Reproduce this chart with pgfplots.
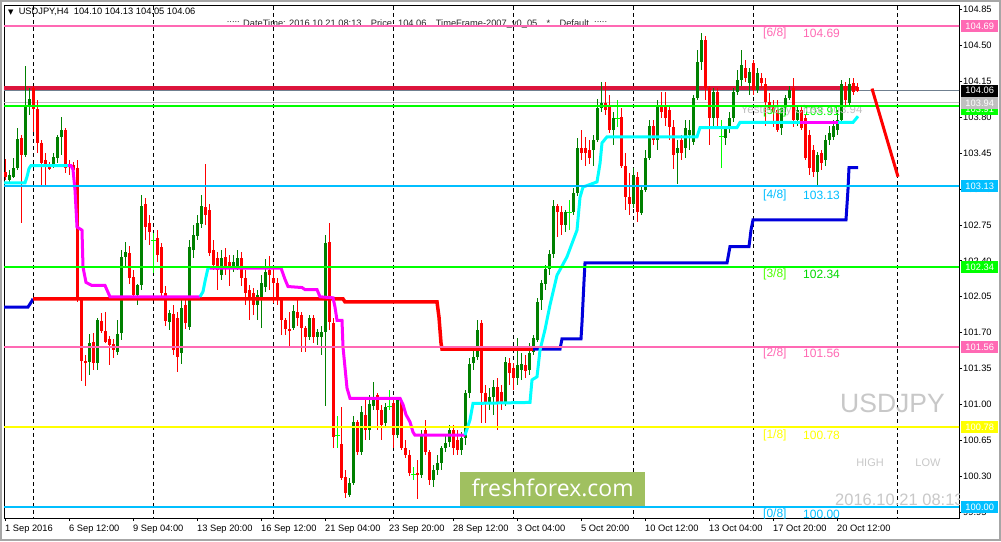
\documentclass[border=0pt]{standalone}
\usepackage{pgfplots}
\pgfplotsset{compat=1.18}
\usepackage{pgfplotstable}
\usepackage{fontspec}
\setmainfont{Liberation Sans}
\newfontfamily\dejavu{DejaVu Sans}
\newfontfamily\ffont{Open Sans}

\definecolor{cup}{RGB}{0,128,0}
\definecolor{cdn}{RGB}{255,0,0}
\definecolor{cdoji}{RGB}{0,255,0}
\definecolor{hotpink}{RGB}{255,105,180}
\definecolor{crimsonc}{RGB}{220,20,60}
\definecolor{dsb}{RGB}{0,191,255}
\definecolor{limec}{RGB}{0,255,0}
\definecolor{yellowc}{RGB}{255,255,0}
\definecolor{aquac}{RGB}{0,255,255}
\definecolor{magc}{RGB}{255,0,255}
\definecolor{bluec}{RGB}{0,0,220}
\definecolor{slate}{RGB}{112,128,144}
\definecolor{silverc}{RGB}{192,192,192}
\definecolor{wm}{RGB}{200,200,200}
\definecolor{ffg}{RGB}{160,192,96}

\newcommand{\tickfont}{\fontsize{9.3}{11}\selectfont}
\newcommand{\lvlfont}{\fontsize{12}{14}\selectfont}

% USDJPY H4 candles: bar index, open, high, low, close
\pgfplotstableread{
i o h l c
0 103.27 103.39 103.19 103.22
1 103.19 103.29 103.17 103.24
2 103.22 103.40 103.21 103.31
3 103.31 103.70 103.29 103.59
4 103.60 103.63 102.77 103.43
5 103.43 104.30 103.41 103.92
6 103.92 104.09 103.82 103.98
7 104.09 104.11 103.66 103.88
8 103.88 103.97 103.45 103.55
9 103.55 103.58 103.13 103.35
10 103.38 103.45 103.12 103.34
11 103.34 103.36 103.29 103.30
12 103.34 103.45 103.31 103.41
13 103.40 103.63 103.35 103.61
14 103.61 103.80 103.43 103.68
15 103.68 103.70 103.26 103.31
16 103.35 103.38 103.24 103.32
17 103.34 103.36 103.16 103.29
18 103.31 103.38 102.00 102.02
19 102.02 102.04 101.23 101.42
20 101.42 101.48 101.18 101.40
21 101.41 101.69 101.29 101.60
22 101.61 101.70 101.34 101.40
23 101.40 101.84 101.34 101.82
24 101.81 101.89 101.70 101.72
25 101.72 101.90 101.60 101.61
26 101.64 101.67 101.39 101.58
27 101.59 101.64 101.45 101.53
28 101.51 101.82 101.48 101.69
29 101.70 102.51 101.63 102.44
30 102.44 102.58 102.34 102.49
31 102.48 102.55 102.18 102.23
32 102.24 102.31 102.02 102.07
33 102.07 102.18 101.97 102.16
34 102.16 103.04 102.12 102.94
35 102.95 103.01 102.60 102.73
36 102.77 102.85 102.55 102.68
37 102.60 102.67 102.28 102.60
38 102.62 102.70 102.39 102.46
39 102.54 102.57 102.06 102.09
40 102.09 102.16 101.77 101.81
41 101.80 101.92 101.73 101.89
42 101.88 101.97 101.48 101.53
43 101.84 101.90 101.32 101.46
44 101.50 102.02 101.40 101.94
45 101.97 102.02 101.74 101.79
46 101.76 102.60 101.73 102.54
47 102.51 102.75 102.43 102.65
48 102.64 102.85 102.60 102.77
49 102.76 103.04 102.72 102.94
50 102.93 103.35 102.75 102.85
51 102.90 102.96 102.45 102.48
52 102.51 102.60 102.31 102.36
53 102.43 102.49 102.12 102.31
54 102.26 102.51 102.21 102.43
55 102.44 102.53 102.26 102.34
56 102.39 102.46 102.16 102.33
57 102.33 102.46 102.29 102.39
58 102.35 102.51 102.31 102.43
59 102.43 102.49 102.16 102.23
60 102.23 102.31 101.97 102.09
61 102.12 102.16 101.82 102.02
62 102.09 102.14 101.87 101.97
63 101.97 102.12 101.82 102.07
64 102.02 102.26 101.75 102.18
65 102.15 102.42 102.10 102.29
66 102.31 102.45 102.12 102.26
67 102.23 102.33 101.99 102.18
68 102.18 102.23 101.97 102.02
69 102.02 102.04 101.68 101.82
70 101.82 101.84 101.68 101.74
71 101.74 101.90 101.57 101.72
72 101.75 101.97 101.73 101.91
73 101.90 102.04 101.77 101.84
74 101.87 101.90 101.51 101.75
75 101.75 101.77 101.51 101.66
76 101.66 101.87 101.63 101.84
77 101.84 101.87 101.60 101.66
78 101.66 101.74 101.58 101.71
79 101.66 101.77 101.48 101.71
80 101.71 102.65 100.99 102.58
81 102.58 102.77 101.73 101.80
82 101.80 101.84 100.58 100.68
83 100.70 100.89 100.58 100.70
84 100.62 100.98 100.26 100.28
85 100.29 100.36 100.09 100.14
86 100.12 100.28 100.10 100.24
87 100.24 100.89 100.21 100.83
88 100.83 100.85 100.51 100.54
89 100.54 100.99 100.51 100.93
90 100.90 101.04 100.65 100.75
91 100.75 101.09 100.65 101.01
92 100.99 101.22 100.95 101.06
93 101.09 101.11 100.75 100.95
94 100.95 100.99 100.65 100.80
95 100.82 101.01 100.77 100.98
96 100.98 101.14 100.95 100.98
97 101.02 101.06 100.58 100.70
98 100.70 101.06 100.67 101.04
99 101.02 101.04 100.56 100.58
100 100.58 100.65 100.48 100.51
101 100.51 100.56 100.30 100.33
102 100.32 100.39 100.26 100.32
103 100.33 100.46 100.08 100.31
104 100.31 100.75 100.28 100.70
105 100.75 100.85 100.51 100.54
106 100.54 100.56 100.21 100.26
107 100.26 100.41 100.20 100.36
108 100.36 100.51 100.31 100.43
109 100.43 100.60 100.36 100.58
110 100.58 100.70 100.54 100.63
111 100.63 100.80 100.59 100.75
112 100.75 100.80 100.51 100.58
113 100.65 100.75 100.51 100.56
114 100.56 100.73 100.51 100.67
115 100.67 101.14 100.60 101.11
116 101.11 101.45 101.06 101.40
117 101.40 101.53 101.34 101.46
118 101.46 101.82 101.43 101.73
119 101.80 101.82 100.82 101.11
120 101.11 101.19 100.82 101.02
121 101.02 101.16 100.95 101.07
122 101.07 101.24 100.90 101.17
123 101.17 101.26 100.75 101.02
124 101.12 101.19 100.95 101.02
125 101.02 101.46 100.99 101.41
126 101.40 101.45 101.19 101.31
127 101.36 101.41 101.14 101.26
128 101.26 101.65 101.19 101.38
129 101.34 101.50 101.24 101.40
130 101.38 101.48 101.26 101.33
131 101.34 101.60 101.29 101.50
132 101.51 101.68 101.48 101.65
133 101.63 102.04 101.61 102.00
134 102.02 102.21 101.92 102.18
135 102.18 102.36 102.12 102.32
136 102.32 102.51 102.26 102.47
137 102.47 102.99 102.43 102.94
138 102.94 102.96 102.63 102.88
139 102.88 102.94 102.65 102.75
140 102.75 102.90 102.68 102.88
141 102.87 102.99 102.70 102.87
142 102.88 103.11 102.85 103.06
143 103.06 103.60 103.03 103.50
144 103.50 103.68 103.38 103.45
145 103.50 103.61 103.33 103.45
146 103.48 103.58 103.35 103.40
147 103.48 103.63 103.33 103.58
148 103.58 103.98 103.56 103.89
149 103.89 104.14 103.85 103.94
150 103.94 104.14 103.82 103.87
151 103.92 104.02 103.65 103.68
152 103.68 103.85 103.53 103.79
153 103.79 103.97 103.71 103.79
154 103.80 103.89 103.31 103.33
155 103.33 103.45 102.90 103.02
156 103.02 103.26 102.85 102.96
157 102.96 103.31 102.92 103.24
158 103.22 103.27 102.78 102.88
159 102.87 103.14 102.85 103.09
160 103.09 103.48 103.07 103.40
161 103.40 103.77 103.38 103.72
162 103.72 103.77 103.53 103.58
163 103.58 103.97 103.48 103.90
164 103.92 104.05 103.79 103.85
165 103.90 104.05 103.72 103.79
166 103.87 103.92 103.58 103.71
167 103.71 103.77 103.30 103.43
168 103.45 103.58 103.15 103.50
169 103.58 103.63 103.38 103.45
170 103.50 103.77 103.40 103.70
171 103.63 103.77 103.48 103.68
172 103.56 104.02 103.53 103.99
173 103.99 104.46 103.97 104.34
174 104.34 104.62 104.26 104.55
175 104.55 104.59 103.97 104.09
176 104.09 104.11 103.53 103.79
177 103.79 104.09 103.72 104.05
178 104.05 104.09 103.72 103.79
179 103.61 103.77 103.31 103.61
180 103.60 103.72 103.53 103.70
181 103.70 103.85 103.65 103.79
182 103.79 104.09 103.75 104.05
183 104.05 104.26 104.02 104.16
184 104.16 104.46 104.11 104.31
185 104.28 104.36 104.14 104.18
186 104.14 104.28 104.02 104.24
187 104.33 104.36 104.02 104.07
188 104.07 104.28 104.04 104.23
189 104.18 104.23 104.09 104.13
190 104.13 104.18 103.72 103.95
191 103.95 104.04 103.87 103.89
192 103.90 103.97 103.71 103.85
193 103.87 103.97 103.66 103.68
194 103.70 103.92 103.63 103.89
195 103.89 104.02 103.82 103.99
196 103.99 104.11 103.97 104.07
197 104.09 104.18 103.71 103.77
198 103.77 103.92 103.72 103.87
199 103.87 103.92 103.68 103.70
200 103.79 103.82 103.38 103.40
201 103.63 103.68 103.24 103.31
202 103.48 103.53 103.22 103.27
203 103.27 103.46 103.14 103.43
204 103.45 103.48 103.29 103.36
205 103.38 103.63 103.33 103.58
206 103.58 103.72 103.53 103.65
207 103.61 103.77 103.58 103.72
208 103.68 103.87 103.63 103.77
209 103.77 104.16 103.75 104.13
210 104.11 104.14 103.92 103.97
211 103.94 104.18 103.91 104.13
212 104.13 104.18 104.02 104.05
213 104.10 104.13 104.05 104.06
}\candles

\pgfplotsset{
  wick/.style={draw=none, mark=none, forget plot,
    error bars/.cd, y dir=both, y explicit, error mark=none,
    error bar style={line width=1pt, #1}},
  body/.style={draw=none, mark=none, forget plot,
    error bars/.cd, y dir=both, y explicit, error mark=none,
    error bar style={line width=3pt, #1}},
}

\begin{document}
\begin{tikzpicture}[x=1pt,y=1pt]
\fill[white] (-4,-23) rectangle (997,518);
\draw[black!35, line width=2pt] (-3,-22) rectangle (996,517);
\begin{axis}[
  at={(0,0)}, anchor=south west,
  scale only axis, width=955pt, height=513pt,
  xmin=-0.25, xmax=238.5, ymin=99.893, ymax=104.895,
  axis line style={black, line width=0.9pt},
  ytick pos=right, yticklabel pos=right, xtick pos=left,
  tick align=outside, major tick length=3pt,
  tick style={black, line width=0.8pt},
  xtick={0,16,...,208},
  xticklabels={1 Sep 2016, 6 Sep 12:00, 9 Sep 04:00, 13 Sep 20:00, 16 Sep 12:00,
    21 Sep 04:00, 23 Sep 20:00, 28 Sep 12:00, 3 Oct 04:00, 5 Oct 20:00,
    10 Oct 12:00, 13 Oct 04:00, 17 Oct 20:00, 20 Oct 12:00},
  ytick={99.95,100.30,100.65,101.00,101.35,101.70,102.05,102.40,102.75,103.10,103.45,103.80,104.15,104.50,104.85},
  yticklabels={99.95,100.30,100.65,101.00,101.35,101.70,102.05,102.40,102.75,103.10,103.45,103.80,104.15,104.50,104.85},
  xticklabel style={anchor=north west, inner xsep=0pt, font=\tickfont},
  yticklabel style={anchor=west, inner xsep=1pt, font=\tickfont},
]
% weekly separators
\pgfplotsinvokeforeach{7,37,67,97,127,157,187,223}{
  \draw[black, line width=0.8pt, dash pattern=on 4pt off 3pt] (axis cs:#1,99.8) -- (axis cs:#1,105);
}
% background lines
\addplot[crimsonc, line width=4pt, forget plot] coordinates {(-1,104.09) (213.25,104.09)};
\addplot[slate, line width=1pt, forget plot] coordinates {(-1,104.06) (240,104.06)};
\addplot[silverc, line width=1pt, forget plot] coordinates {(-1,103.94) (240,103.94)};

% candles
\addplot[wick=cup] table[x=i, y expr={\thisrow{c}>\thisrow{o} ? (\thisrow{h}+\thisrow{l})/2 : nan}, y error expr={(\thisrow{h}-\thisrow{l})/2}] {\candles};
\addplot[wick=cdn] table[x=i, y expr={\thisrow{c}<\thisrow{o} ? (\thisrow{h}+\thisrow{l})/2 : nan}, y error expr={(\thisrow{h}-\thisrow{l})/2}] {\candles};
\addplot[wick=cdoji] table[x=i, y expr={\thisrow{c}==\thisrow{o} ? (\thisrow{h}+\thisrow{l})/2 : nan}, y error expr={(\thisrow{h}-\thisrow{l})/2}] {\candles};
\addplot[body=cup] table[x=i, y expr={\thisrow{c}>\thisrow{o} ? (\thisrow{o}+\thisrow{c})/2 : nan}, y error expr={abs(\thisrow{c}-\thisrow{o})/2}] {\candles};
\addplot[body=cdn] table[x=i, y expr={\thisrow{c}<\thisrow{o} ? (\thisrow{o}+\thisrow{c})/2 : nan}, y error expr={abs(\thisrow{c}-\thisrow{o})/2}] {\candles};
\addplot[only marks, mark=-, mark size=2.5pt, cdoji, mark options={line width=1pt}, forget plot] table[x=i, y expr={\thisrow{c}==\thisrow{o} ? \thisrow{c} : nan}] {\candles};

% watermark box
\fill[ffg] (axis cs:113.75,100.34) rectangle (axis cs:160,100.00);
\node[text=white, font=\ffont\fontsize{23}{26}\selectfont, inner sep=0pt] at (axis cs:136.9,100.185) {freshforex.com};

% trend step indicator
\addplot[bluec, line width=3pt] coordinates {(-1,101.95) (5.75,101.95) (6.25,101.98) (6.75,102.01) (7,102.03)};
\addplot[cdn, line width=3.5pt] coordinates {(7,102.03) (84.5,102.03) (85,102.00) (108,102.00) (108.5,101.85) (109,101.60) (109.25,101.54) (132,101.54)};
\addplot[bluec, line width=3pt] coordinates {(132,101.54) (138.75,101.54) (139.25,101.64) (144,101.64) (144.25,101.80) (144.75,102.20) (145,102.38) (180.5,102.38) (181.25,102.54) (186,102.54) (186.5,102.70) (187,102.80) (210.25,102.80) (210.75,103.10) (211,103.31) (213.25,103.31)};
\addplot[aquac, line width=3pt] coordinates {(-1,103.16) (5,103.16) (5.5,103.22) (6,103.30) (6.5,103.33) (15.75,103.33)};
\addplot[magc, line width=3pt] coordinates {(15.75,103.33) (16.5,103.33) (17,103.29) (17.5,103.09) (18,102.73) (19.25,102.70) (19.5,102.34) (20.25,102.19) (21.75,102.16) (25,102.16) (26.25,102.05) (48.75,102.05)};
\addplot[aquac, line width=3pt] coordinates {(48.75,102.05) (49.5,102.10) (50,102.20) (50.75,102.33) (51.25,102.33)};
\addplot[magc, line width=3pt] coordinates {(51.25,102.33) (69,102.33) (70,102.22) (70.75,102.15) (74.25,102.14) (75,102.12) (78,102.12) (78.75,102.05) (82,102.04) (82.5,101.95) (83,101.82) (84.25,101.82) (84.5,101.56) (85,101.36) (85.5,101.16) (86.25,101.06) (98.75,101.06) (99.5,101.00) (100.25,100.90) (101.25,100.83) (102,100.73) (102.5,100.70) (115,100.70)};
\addplot[aquac, line width=3pt] coordinates {(115,100.70) (116.25,100.85) (117,101.01) (131.25,101.02) (131.75,101.24) (133,101.27) (133.75,101.53) (135,101.73) (136.25,101.97) (138,102.26) (140.5,102.44) (143,102.70) (143.75,103.02) (144.5,103.12) (148,103.17) (148.75,103.35) (149.25,103.55) (150.5,103.61) (173,103.61) (173.75,103.70) (183,103.70) (183.75,103.75) (198.75,103.75)};
\addplot[magc, line width=3pt] coordinates {(198.75,103.75) (208.25,103.75)};
\addplot[aquac, line width=3pt] coordinates {(208.25,103.75) (212,103.75) (213.25,103.81)};

% texts
\node[anchor=west, inner sep=0pt, font=\tickfont] at (axis cs:0.75,104.83) {{\dejavu\fontsize{7}{8}\selectfont ▼}\ \ USDJPY,H4\ \ 104.10 104.13 104.05 104.06};
\node[inner sep=0pt, font=\tickfont, text=black!85] at (axis cs:103,104.71) {::::: DateTime: 2016.10.21 08:13\quad Price: 104.06\quad TimeFrame-2007\_v0\_05\quad *\quad Default\ \ :::::};
\node[anchor=west, inner sep=0pt, font=\lvlfont, text=hotpink] at (axis cs:189.5,104.62) {[6/8]};
\node[anchor=west, inner sep=0pt, font=\lvlfont, text=hotpink] at (axis cs:199.5,104.62) {104.69};
\node[anchor=west, inner sep=0pt, font=\lvlfont, text=limec] at (axis cs:189.5,103.86) {[5/8]};
\node[anchor=west, inner sep=0pt, font=\lvlfont, text=limec] at (axis cs:199.5,103.86) {103.91};
\node[anchor=west, inner sep=0pt, font=\fontsize{11.5}{13}\selectfont, text=silverc] at (axis cs:183.9,103.865) {Yesterday Close 103.94};
\node[anchor=west, inner sep=0pt, font=\lvlfont, text=dsb] at (axis cs:189.5,103.04) {[4/8]};
\node[anchor=west, inner sep=0pt, font=\lvlfont, text=dsb] at (axis cs:199.5,103.04) {103.13};
\node[anchor=west, inner sep=0pt, font=\lvlfont, text=limec!70!yellowc] at (axis cs:189.5,102.27) {[3/8]};
\node[anchor=west, inner sep=0pt, font=\lvlfont, text=limec!85!black] at (axis cs:199.5,102.27) {102.34};
\node[anchor=west, inner sep=0pt, font=\lvlfont, text=hotpink] at (axis cs:189.5,101.50) {[2/8]};
\node[anchor=west, inner sep=0pt, font=\lvlfont, text=hotpink] at (axis cs:199.5,101.50) {101.56};
\node[anchor=west, inner sep=0pt, font=\lvlfont, text=yellowc] at (axis cs:189.5,100.70) {[1/8]};
\node[anchor=west, inner sep=0pt, font=\lvlfont, text=yellowc] at (axis cs:199.5,100.70) {100.78};
\node[anchor=west, inner sep=0pt, font=\lvlfont, text=dsb] at (axis cs:189.5,99.93) {[0/8]};
\node[anchor=west, inner sep=0pt, font=\lvlfont, text=dsb] at (axis cs:199.5,99.93) {100.00};
\node[anchor=west, inner sep=0pt, font=\fontsize{26.5}{30}\selectfont, text=wm] at (axis cs:208.75,101.01) {USDJPY};
\node[inner sep=0pt, font=\fontsize{11}{13}\selectfont, text=wm] at (axis cs:216.25,100.43) {HIGH};
\node[inner sep=0pt, font=\fontsize{11}{13}\selectfont, text=wm] at (axis cs:230.75,100.43) {LOW};
\node[anchor=west, inner sep=0pt, font=\fontsize{16.5}{19}\selectfont, text=wm] at (axis cs:207.5,100.07) {2016.10.21 08:13};

% Murrey levels
\addplot[hotpink, line width=2pt] coordinates {(-1,104.69) (240,104.69)};
\addplot[limec, line width=2pt] coordinates {(-1,103.91) (240,103.91)};
\addplot[dsb, line width=2pt] coordinates {(-1,103.13) (240,103.13)};
\addplot[limec, line width=2pt] coordinates {(-1,102.34) (240,102.34)};
\addplot[hotpink, line width=2pt] coordinates {(-1,101.56) (240,101.56)};
\addplot[yellowc, line width=2pt] coordinates {(-1,100.78) (240,100.78)};
\addplot[dsb, line width=2pt] coordinates {(-1,100.00) (240,100.00)};
% forecast
\addplot[cdn, line width=3pt] coordinates {(216.75,104.08) (223.25,103.22)};

\coordinate (r1) at (axis cs:238.5,104.69);
\coordinate (r2) at (axis cs:238.5,104.06);
\coordinate (r3) at (axis cs:238.5,103.94);
\coordinate (r4) at (axis cs:238.5,103.91);
\coordinate (r5) at (axis cs:238.5,103.13);
\coordinate (r6) at (axis cs:238.5,102.34);
\coordinate (r7) at (axis cs:238.5,101.56);
\coordinate (r8) at (axis cs:238.5,100.78);
\coordinate (r9) at (axis cs:238.5,100.00);
\end{axis}
\tikzset{pbox/.style={anchor=west, xshift=2pt, minimum width=37pt, minimum height=12pt, inner xsep=2pt, inner ysep=0pt, text=white, font=\tickfont, align=left}}
\node[pbox, fill=hotpink] at (r1) {104.69};
\node[pbox, fill=limec] at ([yshift=-3pt]r4) {103.91};
\node[pbox, fill=silverc] at (r3) {103.94};
\node[pbox, fill=black] at (r2) {104.06};
\node[pbox, fill=dsb] at (r5) {103.13};
\node[pbox, fill=limec] at (r6) {102.34};
\node[pbox, fill=hotpink] at (r7) {101.56};
\node[pbox, fill=yellowc] at (r8) {100.78};
\node[pbox, fill=dsb] at (r9) {100.00};
\end{tikzpicture}
\end{document}
